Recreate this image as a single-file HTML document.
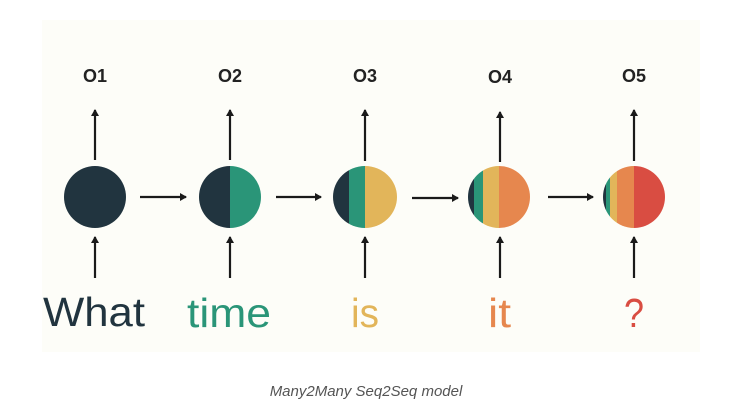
<!DOCTYPE html>
<html><head><meta charset="utf-8"><style>
html,body{margin:0;padding:0;background:#fff;}
body{width:732px;height:412px;overflow:hidden;}
</style></head><body>
<svg width="732" height="412" viewBox="0 0 732 412" xmlns="http://www.w3.org/2000/svg">
<defs>
<marker id="ah" markerWidth="8" markerHeight="8" refX="6" refY="4" orient="auto" markerUnits="userSpaceOnUse">
<path d="M0,0 L7,4 L0,8 z" fill="#1a1a1a"/>
</marker>
<clipPath id="c1"><ellipse cx="95" cy="197" rx="31" ry="31"/></clipPath>
<clipPath id="c2"><ellipse cx="230" cy="197" rx="31" ry="31"/></clipPath>
<clipPath id="c3"><ellipse cx="365" cy="197" rx="32" ry="31"/></clipPath>
<clipPath id="c4"><ellipse cx="499" cy="197" rx="31" ry="31"/></clipPath>
<clipPath id="c5"><ellipse cx="634" cy="197" rx="31" ry="31"/></clipPath>
</defs>
<rect x="42" y="20" width="658" height="332" fill="#fdfdf8"/>
<g font-family="Liberation Sans, sans-serif" font-weight="bold" font-size="18" fill="#222" text-anchor="middle">
<text x="95" y="82">O1</text><text x="230" y="82">O2</text><text x="365" y="82">O3</text><text x="500" y="83">O4</text><text x="634" y="82">O5</text>
</g>
<g stroke="#1a1a1a" stroke-width="2.2" marker-end="url(#ah)">
<line x1="95" y1="160" x2="95" y2="110"/><line x1="230" y1="160" x2="230" y2="110"/><line x1="365" y1="161" x2="365" y2="110"/><line x1="500" y1="162" x2="500" y2="112"/><line x1="634" y1="161" x2="634" y2="110"/>
<line x1="95" y1="278" x2="95" y2="237"/><line x1="230" y1="278" x2="230" y2="237"/><line x1="365" y1="278" x2="365" y2="237"/><line x1="500" y1="278" x2="500" y2="237"/><line x1="634" y1="278" x2="634" y2="237"/>
<line x1="140" y1="197" x2="186" y2="197"/><line x1="276" y1="197" x2="321" y2="197"/><line x1="412" y1="198" x2="458" y2="198"/><line x1="548" y1="197" x2="593" y2="197"/>
</g>
<g clip-path="url(#c1)"><rect x="60" y="160" width="80" height="80" fill="#21343f"/></g>
<g clip-path="url(#c2)"><rect x="195" y="160" width="35" height="80" fill="#21343f"/><rect x="230" y="160" width="40" height="80" fill="#2a9578"/></g>
<g clip-path="url(#c3)"><rect x="330" y="160" width="19" height="80" fill="#21343f"/><rect x="349" y="160" width="16" height="80" fill="#2a9578"/><rect x="365" y="160" width="40" height="80" fill="#e2b55a"/></g>
<g clip-path="url(#c4)"><rect x="465" y="160" width="9" height="80" fill="#21343f"/><rect x="474" y="160" width="9" height="80" fill="#2a9578"/><rect x="483" y="160" width="16" height="80" fill="#e2b55a"/><rect x="499" y="160" width="40" height="80" fill="#e6874e"/></g>
<g clip-path="url(#c5)"><rect x="600" y="160" width="6" height="80" fill="#21343f"/><rect x="606" y="160" width="4" height="80" fill="#2a9578"/><rect x="610" y="160" width="7" height="80" fill="#e2b55a"/><rect x="617" y="160" width="17" height="80" fill="#e6874e"/><rect x="634" y="160" width="40" height="80" fill="#d94d42"/></g>
<g font-family="Liberation Sans, sans-serif" font-size="41">
<text x="43" y="326" fill="#21343f" textLength="102" lengthAdjust="spacingAndGlyphs">What</text>
<text x="187" y="327" fill="#2a9578" textLength="84" lengthAdjust="spacingAndGlyphs">time</text>
<text x="351" y="327" fill="#e2b55a" textLength="28" lengthAdjust="spacingAndGlyphs">is</text>
<text x="488" y="327" fill="#e6874e" textLength="23" lengthAdjust="spacingAndGlyphs">it</text>
<text x="624" y="327" fill="#d94d42" textLength="20" lengthAdjust="spacingAndGlyphs">?</text>
</g>
<text x="366" y="396" font-family="Liberation Sans, sans-serif" font-style="italic" font-size="15" fill="#555" text-anchor="middle">Many2Many Seq2Seq model</text>
</svg>
</body></html>
